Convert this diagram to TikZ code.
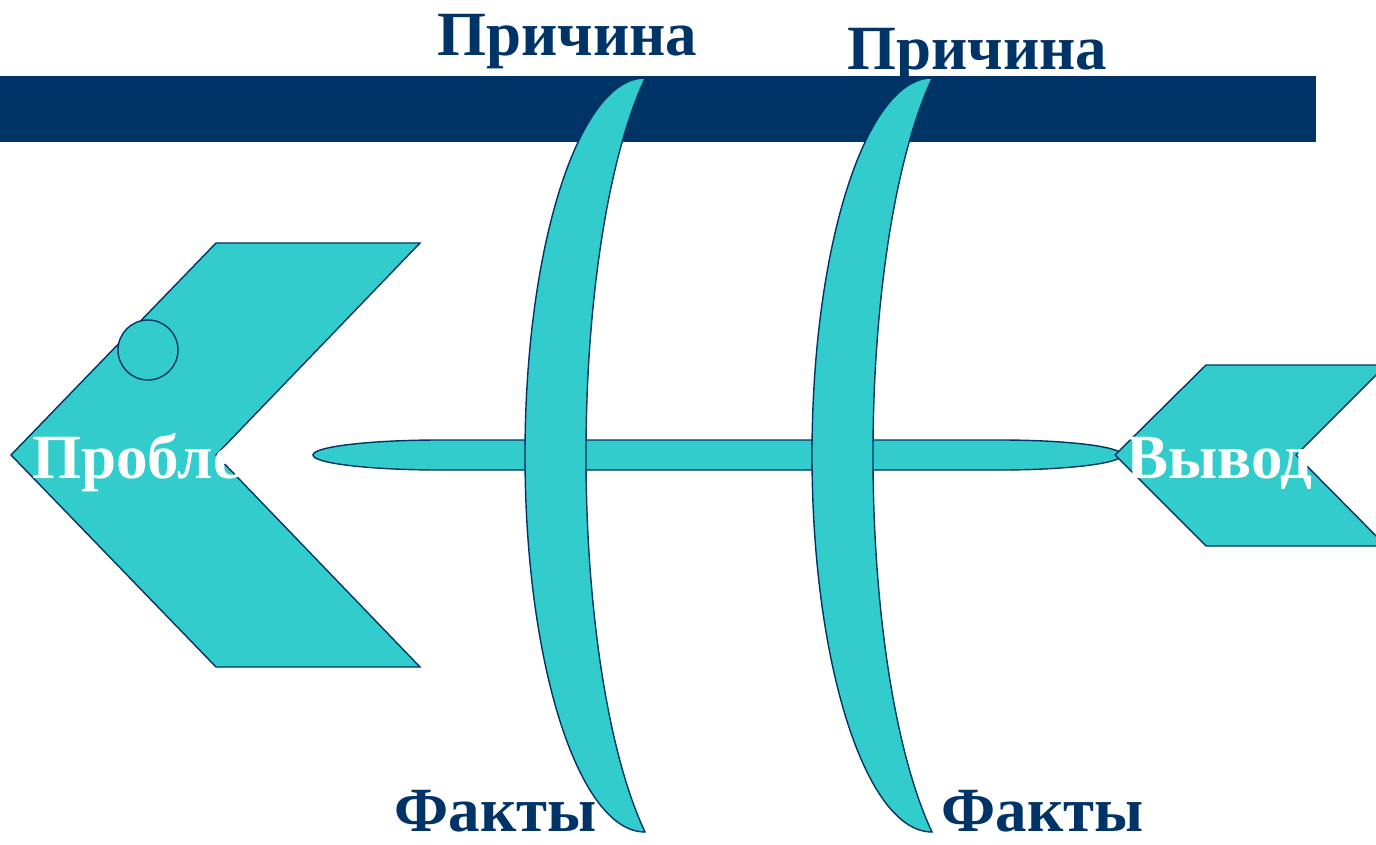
\documentclass[tikz,border=0pt]{standalone}
\usepackage{fontspec}
\setmainfont{Liberation Serif}
\definecolor{fishnavy}{HTML}{003366}
\definecolor{fishteal}{HTML}{33CCCC}

\begin{document}
\begin{tikzpicture}[x=0.5pt,y=-0.5pt,
  part/.style={draw=fishnavy,fill=fishteal,line width=0.7pt},
  lab/.style={font=\fontsize{31.5}{31.5}\selectfont\bfseries,inner sep=0pt,
              anchor=base west,text=fishnavy},
  wlab/.style={lab,text=white}]
  \clip (0,0) rectangle (1376,845);
  \fill[white] (0,0) rectangle (1376,845);
  % second cause sits partly under the band
  \node[lab] (cause2) at (847,70) {Причина};
  \fill[fishnavy] (0,76) rectangle (1316,142);
  \node[lab] (cause1) at (437,56) {Причина};
  % spine
  \draw[part] (440,440) -- (1000,440)
    arc[start angle=-90,end angle=90,x radius=122,y radius=15] -- (440,470)
    arc[start angle=90,end angle=270,x radius=127,y radius=15] -- cycle;
  % ribs
  \foreach \dx in {0,287}
    \draw[part,shift={(\dx,0)}] (645,78)
      arc[start angle=-90,end angle=-270,x radius=120,y radius=377]
      arc[start angle=120,end angle=240,x radius=118,y radius=435] -- cycle;
  % head
  \draw[part] (11,455) -- (216,243) -- (420,243) -- (216,455)
    -- (420,667) -- (216,667) -- cycle;
  \draw[part] (148,350) circle[radius=30];
  \node[wlab] (problem) at (32,478) {Проблема};
  % tail
  \draw[part] (1115,455) -- (1206,365) -- (1386,365) -- (1296,455)
    -- (1386,546) -- (1206,546) -- cycle;
  \node[wlab] (result) at (1126,478) {Вывод};
  \node[lab] (facts1) at (394,831) {Факты};
  \node[lab] (facts2) at (941,831) {Факты};
\end{tikzpicture}
\end{document}
